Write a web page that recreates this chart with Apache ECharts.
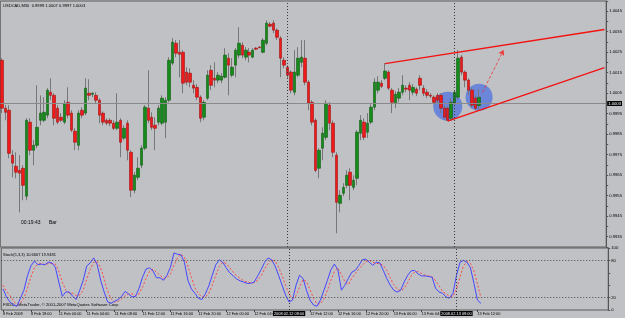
<!DOCTYPE html>
<html>
<head>
<meta charset="utf-8">
<script src="https://cdn.jsdelivr.net/npm/echarts@6/dist/echarts.min.js"></script>
<style>
html,body{margin:0;padding:0;background:#c0c1c4;}
#main{width:625px;height:318px;}
</style>
</head>
<body>
<div id="main"></div>
<script>
// USDCAD M30 bars, 8 Feb 15:00 .. 13 Feb 12:30
const opens = [
  1.00211,0.99977,0.99967,0.99748,0.99694,0.99674,0.99684,0.99548,0.99909,0.99772,
  0.99796,0.99918,0.99918,0.99943,1.00055,1.0004,0.99977,0.99933,0.99909,1.00006,
  0.99953,0.99865,0.99796,0.99967,0.99953,1.0005,1.00045,1.0004,1.00016,0.99953,
  0.99918,0.99918,0.99904,0.99879,0.99918,0.99831,0.99904,0.99762,0.99577,0.9964,
  0.99699,0.99782,0.99977,0.99933,0.99894,0.99909,0.99904,0.99909,1.00016,1.00197,
  1.00294,1.0025,1.0025,1.00153,1.00148,1.00089,1.00079,1.00031,0.99933,1.00026,
  1.00162,1.00123,1.00114,1.00114,1.00128,1.00221,1.00138,1.00187,1.00236,1.00284,
  1.00226,1.0025,1.00226,1.0027,1.00275,1.0025,1.00294,1.00387,1.00392,1.00358,
  1.00319,1.00211,1.00177,1.00153,1.00055,1.00138,1.00201,1.00221,1.00104,1.00006,
  0.99918,0.99684,0.99782,0.99835,0.99992,0.99904,0.99748,0.99513,0.99562,0.99601,
  0.99665,0.99591,0.99635,0.99855,0.99909,0.9986,0.99909,0.99982,1.00065,1.00099,
  1.00123,1.00153,1.00065,1.00001,1.00026,1.00055,1.00075,1.00089,1.00055,1.0007,
  1.00123,1.00075,1.00055,1.0004,1.00031,1.0004,1.0004,0.99977,0.99977,0.99928,
  1.00001,1.00031,1.00226,1.00153,1.00114,1.00065,1.00026,0.9999
];
const closes = [
  0.99977,0.99957,0.99757,0.99709,0.99665,0.9966,0.99601,0.99918,0.99772,0.99796,
  0.99884,0.99953,0.99957,1.00065,1.0004,0.99928,0.99909,0.99918,1.00001,0.99943,
  0.9987,0.99811,0.99953,0.99943,1.00075,1.0004,1.0005,1.00016,0.99943,0.99909,
  0.99904,0.99904,0.99879,0.99909,0.99811,0.99879,0.99772,0.99577,0.9965,0.99684,
  0.99782,0.99982,0.99918,0.99884,0.99879,0.99977,1.00026,1.00016,1.00211,1.00299,
  1.00245,1.0024,1.00099,1.00104,1.00104,1.00075,1.00031,0.99928,1.00006,1.00138,
  1.00089,1.00114,1.00138,1.00133,1.00236,1.00187,1.00177,1.0026,1.00294,1.00236,
  1.0026,1.00236,1.0026,1.00265,1.00272,1.00309,1.00392,1.00377,1.00358,1.00323,
  1.00221,1.00187,1.00138,1.00065,1.00153,1.00221,1.00226,1.00104,1.00001,0.99909,
  0.99674,0.99772,0.99855,1.00001,0.99904,0.99762,0.99518,0.99552,0.99591,0.9965,
  0.99601,0.99626,0.9986,0.99918,0.99835,0.99904,0.99982,1.00104,1.00104,1.00084,
  1.00158,1.00075,1.00006,1.00045,1.00055,1.00089,1.0007,1.00065,1.00079,1.0005,
  1.00089,1.0005,1.0004,1.00036,1.00006,1.00016,0.99977,0.99933,0.99918,1.00006,
  1.00055,1.00221,1.00153,1.00114,1.00065,0.99992,0.99977,1.0003
];
const lows = [
  0.99953,0.99918,0.99733,0.9964,0.99635,0.99469,0.99528,0.99528,0.99748,0.99699,
  0.99782,0.99894,0.99909,0.99928,1.00016,0.99894,0.99899,0.99909,0.99899,0.99928,
  0.9986,0.99772,0.99772,0.99928,0.99943,1.00016,1.00031,1.00001,0.99904,0.99894,
  0.99894,0.99889,0.9987,0.9987,0.99738,0.99821,0.99723,0.99543,0.99562,0.99626,
  0.99684,0.99772,0.99904,0.9987,0.99772,0.99894,0.99894,0.99831,1.00006,1.00187,
  1.00226,1.00128,1.0005,1.00089,1.00079,1.0005,1.00016,0.99909,0.99918,1.00016,
  1.00065,1.00079,1.00099,1.00099,1.00123,1.0004,1.00128,1.00128,1.00221,1.00221,
  1.00211,1.00201,1.00221,1.0026,1.0027,1.00245,1.00284,1.00372,1.00343,1.00309,
  1.00128,1.00172,1.00123,1.0005,1.0004,1.00128,1.00177,1.00089,0.99967,0.99894,
  0.99665,0.99635,0.99723,0.99821,0.9987,0.99738,0.99367,0.99469,0.99548,0.99587,
  0.99528,0.99577,0.99601,0.99821,0.99821,0.99831,0.99899,0.99967,1.0005,1.00075,
  1.00114,1.00065,0.99953,0.99977,1.00006,1.0004,1.00055,1.00016,1.0004,1.00036,
  1.00065,1.00036,1.00026,1.00026,0.99996,1.00001,0.99953,0.99923,0.99914,0.99918,
  0.99987,1.00021,1.00138,1.00079,1.0004,0.99977,0.99967,0.9997
];
const highs = [
  1.00221,0.99992,0.99992,0.99772,0.99762,0.99748,0.99699,0.99928,0.99928,0.99821,
  1.00089,1.0004,1.00031,1.00075,1.00123,1.0005,0.99992,0.99953,1.00016,1.00079,
  0.99967,0.99879,0.99967,0.99982,1.00123,1.00118,1.00055,1.00055,1.00026,0.99962,
  0.99928,0.99928,0.99918,1.0005,0.99928,0.99894,0.99918,0.99772,0.99665,0.99738,
  0.99796,0.99992,1.00162,0.99957,0.99933,0.99992,1.0004,1.00031,1.00226,1.00319,
  1.00309,1.00309,1.0026,1.00177,1.00172,1.00114,1.00094,1.0004,1.00016,1.00162,
  1.00187,1.00201,1.00153,1.00148,1.0027,1.00245,1.00221,1.0027,1.00372,1.00299,
  1.00275,1.0027,1.0027,1.00275,1.0028,1.00319,1.00406,1.00397,1.00406,1.00367,
  1.00328,1.00226,1.00187,1.00162,1.0026,1.00275,1.00309,1.00309,1.00114,1.00016,
  0.99928,0.99782,0.99884,1.00016,1.00006,0.99918,0.99762,0.99577,0.99611,0.99674,
  0.99684,0.9965,0.9987,0.99943,0.99928,0.99953,0.99996,1.00123,1.00133,1.00114,
  1.00197,1.00162,1.00075,1.0006,1.00075,1.00138,1.00089,1.00104,1.00094,1.00079,
  1.00138,1.00089,1.0007,1.0005,1.0004,1.0005,1.0005,0.99992,0.99987,1.00026,
  1.00065,1.0026,1.00236,1.00162,1.00123,1.00075,1.0004,1.0007
];

// Stoch(5,3,3): main (blue) and signal (red)
const stochMain = [
  34,21,13,8,6,19,32,55,71,79,
  73,74,73,77,76,69,45,22,29,29,
  22,17,32,48,71,76,84,73,48,29,
  13,11,14,17,22,30,26,21,22,35,
  53,66,68,63,52,52,48,56,69,92,
  90,89,77,48,34,27,19,17,26,39,
  56,73,81,77,68,60,55,50,47,45,
  43,43,45,55,65,77,84,81,71,56,
  40,24,13,16,40,56,51,32,16,8,
  6,16,32,48,65,74,65,32,40,51,
  61,64,72,81,82,77,72,77,76,64,
  51,40,32,29,32,45,56,63,64,58,
  55,55,54,53,35,29,27,21,19,27,
  56,77,80,77,68,43,16,10.6667
];
const stochSignal = [
  40,30,23,14,9,11,19,35,53,68,
  74,75,73,75,75,74,63,45,32,27,
  27,23,24,32,50,65,77,78,68,50,
  30,18,13,14,18,23,26,26,23,26,
  37,51,62,66,61,56,51,52,58,72,
  84,90,85,71,53,36,27,21,21,27,
  40,56,70,77,75,68,61,55,51,47,
  45,44,44,48,55,66,75,81,79,69,
  56,40,26,18,23,37,49,46,33,19,
  10,10,18,32,48,62,68,57,46,41,
  51,59,66,72,78,80,77,75,75,72,
  64,52,41,34,31,35,44,55,61,62,
  59,56,55,54,47,39,30,26,22,22,
  34,53,71,78,75,63,42,19.9481
];
const stochLevels = [80, 20];

// time axis labels: [bar index, text]
const timeTicks = [
  [0,'8 Feb 2008'],[8,'8 Feb 19:00'],[16,'11 Feb 00:00'],[24,'11 Feb 04:00'],
  [32,'11 Feb 08:00'],[40,'11 Feb 12:00'],[48,'11 Feb 16:00'],[56,'11 Feb 20:00'],
  [64,'12 Feb 00:00'],[72,'12 Feb 04:00'],[88,'12 Feb 12:00'],[96,'12 Feb 16:00'],
  [104,'12 Feb 20:00'],[112,'13 Feb 00:00'],[120,'13 Feb 04:00'],[136,'13 Feb 12:00']
];
const periodLines = [[82,'2008.02.12 09:00'],[130,'2008.02.13 09:00']];
const bidPrice = 1.0003;
const upperChannel = [[110, 1.00195],[173, 1.00361]];
const lowerChannel = [[128, 0.99914],[173, 1.00175]];
const arrowPath = [[138, 1.00055],[144, 1.0026]];
const circles = [[128, 0.99987, 29],[137, 1.00031, 27]];
const slotCount = 174;

const FONT = 'Liberation Sans';
const categories = [];
for (let i = 0; i < slotCount; i++) categories.push(String(i));
const tickAt = {};
timeTicks.forEach(function (t) { tickAt[t[0]] = t[1]; });
const showTick = function (idx) { return tickAt[idx] !== undefined; };

const candles = opens.map(function (o, i) { return [o, closes[i], lows[i], highs[i]]; });
const bodies = opens.map(function (o, i) {
  return [o, closes[i], Math.min(o, closes[i]), Math.max(o, closes[i])];
});
const last = opens.length - 1;

const chart = echarts.init(document.getElementById('main'));
chart.setOption({
  animation: false,
  backgroundColor: '#c0c1c4',
  textStyle: { fontFamily: FONT },
  grid: [
    { left: 0.25, right: 16.75, top: 1, height: 246, show: true, borderColor: '#5b5b5b', borderWidth: 1 },
    { left: 0.25, right: 16.75, top: 248, height: 62, show: true, borderColor: '#5b5b5b', borderWidth: 1 }
  ],
  xAxis: [
    { type: 'category', gridIndex: 0, data: categories, boundaryGap: true,
      axisLine: { show: false }, axisTick: { show: false }, axisLabel: { show: false }, splitLine: { show: false } },
    { type: 'category', gridIndex: 1, data: categories, boundaryGap: true,
      axisLine: { show: false },
      axisTick: { show: true, interval: showTick, alignWithLabel: true, length: 2, lineStyle: { color: '#444' } },
      axisLabel: { show: true, interval: showTick, align: 'left', fontSize: 3.9, color: '#000', margin: 2,
        fontFamily: FONT, formatter: function (v, i) { return tickAt[i] || ''; } },
      splitLine: { show: false } }
  ],
  yAxis: [
    { type: 'value', gridIndex: 0, position: 'right', min: 0.993, max: 1.005, interval: 0.0005,
      axisLine: { show: true, lineStyle: { color: '#555' } },
      axisTick: { show: true, length: 2, lineStyle: { color: '#555' } },
      axisLabel: { fontSize: 4.2, color: '#000', margin: 3, fontFamily: FONT,
        formatter: function (v) { return Math.round(v / 0.0005) % 2 === 1 ? v.toFixed(4) : ''; } },
      splitLine: { show: false } },
    { type: 'value', gridIndex: 1, position: 'right', min: 0, max: 100, interval: 20,
      axisLine: { show: true, lineStyle: { color: '#555' } },
      axisTick: { show: true, length: 2, lineStyle: { color: '#555' } },
      axisLabel: { fontSize: 4.2, color: '#000', margin: 3, fontFamily: FONT,
        formatter: function (v) { return (v === 0 || v === 20 || v === 80 || v === 100) ? String(v) : ''; } },
      splitLine: { show: false } }
  ],
  graphic: [
    { type: 'text', x: 3, y: 6, style: { text: 'USDCAD,M30  ' + opens[last].toFixed(4) + ' ' + highs[last].toFixed(4) + ' ' + lows[last].toFixed(4) + ' ' + closes[last].toFixed(4),
      fill: '#000', font: '4.1px ' + FONT, verticalAlign: 'middle' } },
    { type: 'text', x: 21, y: 223, style: { text: '00:19:43', fill: '#000', font: '5px ' + FONT, verticalAlign: 'middle' } },
    { type: 'text', x: 49, y: 223, style: { text: 'Bar', fill: '#000', font: '5px ' + FONT, verticalAlign: 'middle' } },
    { type: 'text', x: 3, y: 255, style: { text: 'Stoch(5,3,3) ' + stochMain[last].toFixed(4) + ' ' + stochSignal[last].toFixed(4),
      fill: '#000', font: '4px ' + FONT, verticalAlign: 'middle' } },
    { type: 'text', x: 3, y: 305, style: { text: 'FXDD - MetaTrader, \u00a9 2001-2007 MetaQuotes Software Corp.',
      fill: '#000', font: '4.2px ' + FONT, verticalAlign: 'middle' } }
  ],
  series: [
    { type: 'scatter', xAxisIndex: 0, yAxisIndex: 0, z: 1, silent: true,
      data: circles.map(function (c) { return [c[0], c[1]]; }),
      symbolSize: function (v, p) { return circles[p.dataIndex][2]; },
      itemStyle: { color: 'rgba(50,95,230,0.75)' } },
    { type: 'candlestick', xAxisIndex: 0, yAxisIndex: 0, z: 2, silent: true,
      data: candles, barWidth: 0.2,
      itemStyle: { color: '#777', color0: '#777', borderColor: '#777', borderColor0: '#777', borderWidth: 1 } },
    { type: 'candlestick', xAxisIndex: 0, yAxisIndex: 0, z: 3, silent: true,
      data: bodies, barWidth: 3,
      itemStyle: { color: '#168a1a', color0: '#f01a1a', borderColor: '#0d5c10', borderColor0: '#a01010', borderWidth: 0.6 },
      markLine: {
        silent: true, symbol: ['none', 'none'], label: { show: false },
        data: [
          { yAxis: bidPrice, lineStyle: { color: '#8a8a8a', type: 'solid', width: 1 },
            label: { show: true, position: 'end', formatter: bidPrice.toFixed(4), backgroundColor: '#000', color: '#fff',
              fontSize: 4.2, fontFamily: FONT, padding: [0.5, 1], distance: 1 } }
        ].concat(periodLines.map(function (p) {
          return { xAxis: p[0], lineStyle: { color: '#3a3a3a', type: [1, 2], width: 1 } };
        })).concat([
          [{ coord: upperChannel[0], lineStyle: { color: '#f21212', type: 'solid', width: 1.3 } }, { coord: upperChannel[1] }],
          [{ coord: lowerChannel[0], lineStyle: { color: '#f21212', type: 'solid', width: 1.3 } }, { coord: lowerChannel[1] }],
          [{ coord: arrowPath[0], symbol: 'none', lineStyle: { color: '#f03030', type: [3, 2], width: 0.8 } },
           { coord: arrowPath[1], symbol: 'arrow', symbolSize: 5 }]
        ])
      } },
    { type: 'line', xAxisIndex: 1, yAxisIndex: 1, z: 2, silent: true, data: stochSignal,
      showSymbol: false, symbol: 'none', lineStyle: { color: '#ff4646', width: 1, type: [2, 2] } },
    { type: 'line', xAxisIndex: 1, yAxisIndex: 1, z: 3, silent: true, data: stochMain,
      showSymbol: false, symbol: 'none', lineStyle: { color: '#4646ff', width: 1 },
      markLine: {
        silent: true, symbol: ['none', 'none'], label: { show: false },
        data: stochLevels.map(function (l) {
          return { yAxis: l, lineStyle: { color: '#4a4a4a', type: [1, 2], width: 1 } };
        }).concat(periodLines.map(function (p) {
          return { xAxis: p[0], lineStyle: { color: '#3a3a3a', type: [1, 2], width: 1 },
            label: { show: true, position: 'start', formatter: p[1], backgroundColor: '#000', color: '#fff',
              fontSize: 3.9, fontFamily: FONT, padding: [0.5, 1], distance: 1 } };
        }))
      } }
  ]
});
</script>
</body>
</html>
